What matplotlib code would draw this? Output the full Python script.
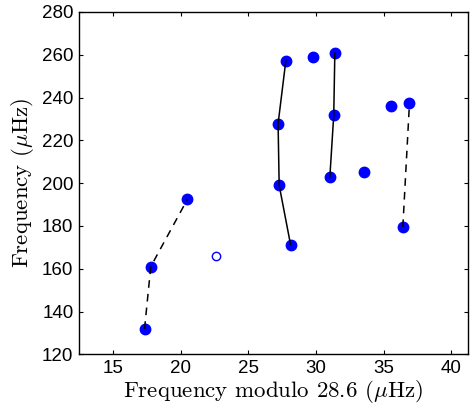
import matplotlib
matplotlib.use("Agg")
import matplotlib.pyplot as plt

plt.rcParams["mathtext.fontset"] = "cm"

# mode frequencies (modulo 28.6 uHz, frequency in uHz)
x_mod = [17.34, 17.8, 20.51, 28.12, 27.28, 27.2, 27.77, 29.79, 31.39, 31.31,
         31.02, 33.53, 35.55, 36.9, 36.41]
y_freq = [131.9, 161.0, 192.5, 171.3, 199.0, 227.8, 257.1, 259.0, 260.7, 231.9,
          202.7, 205.4, 236.1, 237.3, 179.5]

# single uncertain mode (open circle)
x_open = [22.65]
y_open = [165.8]

# ridges joining modes (indices into the lists above)
ridges_dashed = [[0, 1, 2], [14, 13]]
ridges_solid = [[3, 4, 5, 6], [10, 9, 8]]

fig = plt.figure(figsize=(4.71, 4.08), dpi=100)
ax = fig.add_axes([0.1677, 0.1316, 0.8253, 0.839])

for ridge in ridges_dashed:
    ax.plot([x_mod[i] for i in ridge], [y_freq[i] for i in ridge],
            color="k", ls=(0, (5, 4)), lw=1.1, zorder=3)
for ridge in ridges_solid:
    ax.plot([x_mod[i] for i in ridge], [y_freq[i] for i in ridge],
            color="k", ls="-", lw=1.1, zorder=3)

ax.plot(x_mod, y_freq, "o", color="#0000ff", ms=7.5, mec="#0000ff", zorder=2)
ax.plot(x_open, y_open, "o", mfc="white", mec="#0000ff", ms=6, mew=1.0, zorder=2)

ax.set_xlim(12.5, 41.2)
ax.set_ylim(120, 280)
ax.set_xticks([15, 20, 25, 30, 35, 40])
ax.set_yticks(range(120, 281, 20))
ax.tick_params(direction="in", length=3, width=0.8, top=True, right=True,
               labelsize=13.5, pad=4)
for lab in ax.get_xticklabels() + ax.get_yticklabels():
    lab.set_fontfamily("Liberation Sans")
for sp in ax.spines.values():
    sp.set_linewidth(1.0)

ax.set_xlabel(r"Frequency modulo 28.6 ($\mu$Hz)", fontfamily="cmr10",
              fontsize=16.5, labelpad=1)
ax.set_ylabel(r"Frequency ($\mu$Hz)", fontfamily="cmr10", fontsize=16.5,
              labelpad=4)

fig.savefig("out.png", dpi=100)
